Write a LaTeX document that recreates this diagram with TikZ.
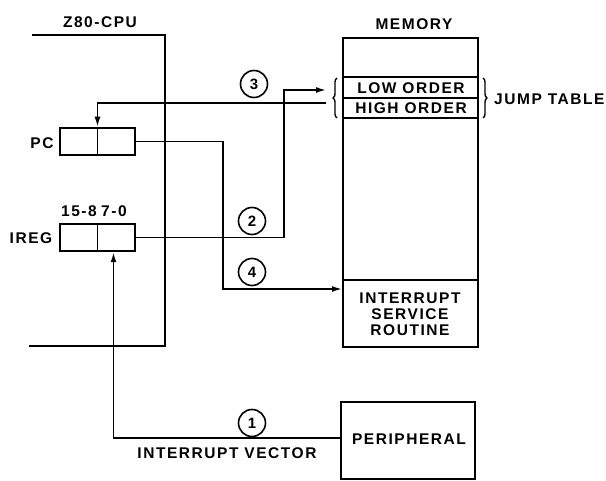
\documentclass[tikz,border=0pt]{standalone}
\usepackage{fontspec}
\setmainfont{Liberation Sans}[LetterSpace=10]
\usetikzlibrary{arrows.meta,decorations.pathreplacing}

\tikzset{
  lbl/.style={font=\bfseries\fontsize{15.5}{16}\selectfont, inner sep=0pt},
  reg/.style={draw, line width=2.5pt, minimum width=75pt, minimum height=27pt, inner sep=0pt},
  num/.style={circle, draw, line width=1.6pt, minimum size=27pt, inner sep=0pt, font=\bfseries\fontsize{15}{16}\selectfont},
  conn/.style={line width=1.6pt, -{Latex[length=10pt,width=6pt]}},
  brc/.style={line width=1.4pt, decorate, decoration={brace, amplitude=4pt}}
}

\begin{document}
\begin{tikzpicture}[x=1pt, y=-1pt]
\useasboundingbox (0,0) rectangle (606,481);

% cpu outline
\draw[line width=2.8pt] (32,35) -| (165,346) -- (29,346);
\node[lbl] (cpu) at (100,22) {Z80-CPU};

% registers
\node[reg] (pc) at (97.5,141.5) {};
\node[reg] (ireg) at (97.5,237.5) {};
\draw[line width=1.8pt] (pc.north) -- (pc.south);
\draw[line width=1.8pt] (ireg.north) -- (ireg.south);
\node[lbl] (pclbl) at (42,143) {PC};
\node[lbl] (ireglbl) at (31,238) {IREG};
\node[lbl] (hibits) at (79,211) {15-8};
\node[lbl] (lobits) at (114,211) {7-0};

% memory
\node[draw, line width=2.6pt, minimum width=135pt, minimum height=309pt, inner sep=0pt] (mem) at (410.5,192.5) {};
\node[lbl] (memlbl) at (414,24) {MEMORY};
\draw[line width=1.8pt] (mem.west |- 0,77) -- (mem.east |- 0,77);
\draw[line width=1.8pt] (mem.west |- 0,98) -- (mem.east |- 0,98);
\draw[line width=1.8pt] (mem.west |- 0,118) -- (mem.east |- 0,118);
\draw[line width=1.8pt] (mem.west |- 0,280) -- (mem.east |- 0,280);
\node[lbl] (low) at (411,88) {LOW ORDER};
\node[lbl] (high) at (411,108) {HIGH ORDER};
\node[lbl, align=center] (isr) at (410,314) {INTERRUPT\\SERVICE\\ROUTINE};

% jump table braces
\draw[brc] (337,118) -- (337,78);
\draw[brc] (483,78) -- (483,118);
\node[lbl, anchor=west] (jt) at (494,99) {JUMP TABLE};

% peripheral
\node[draw, line width=2.6pt, minimum width=134pt, minimum height=77pt, inner sep=0pt] (periph) at (408,440.5) {};
\node[lbl] (periphlbl) at (409,439) {PERIPHERAL};
\node[lbl] (vec) at (227,453) {INTERRUPT VECTOR};

% connector ends
\coordinate (lo) at (326,90);
\coordinate (hi) at (326,103);
\coordinate (svc) at (342,289);

\draw[conn] (periph.west |- 0,438) -| ([xshift=16pt]ireg.south);
\draw[conn] (ireg.east) -- (284,237.5) |- (lo);
\draw[conn] (hi) -| (pc.north);
\draw[conn] (pc.east) -- (223,141.5) |- (svc);

\foreach \n/\x/\y in {1/252/423, 2/252/221, 3/254/84, 4/252/272}
  \node[num] (c\n) at (\x,\y) {\n};
\end{tikzpicture}
\end{document}
